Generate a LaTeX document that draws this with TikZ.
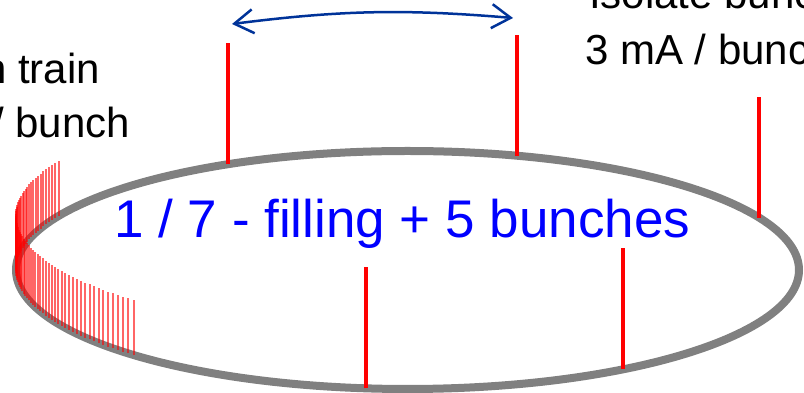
\documentclass[tikz,border=0pt]{standalone}
\usepackage{fontspec}
\setmainfont{Liberation Sans}
\usetikzlibrary{arrows.meta, calc}
\definecolor{ringgray}{RGB}{128,128,128}
\definecolor{bunchred}{RGB}{255,0,0}
\definecolor{fillblue}{RGB}{0,0,255}
\definecolor{arrowblue}{RGB}{0,51,153}
\tikzset{
  ring/.style={draw=ringgray, line width=8pt},
  bunch/.style={draw=bunchred, line width=4pt},
  trainline/.style={draw=bunchred, line width=2pt, opacity=0.6},
  blacktext/.style={inner sep=0pt, font=\fontsize{42}{50}\selectfont},
  filltext/.style={inner sep=0pt, text=fillblue, font=\fontsize{53}{64}\selectfont},
  gaparrow/.style={{Straight Barb[length=19pt,width=24pt]}-{Straight Barb[length=19pt,width=24pt]},
    line width=2.5pt, color=arrowblue},
}
\begin{document}
\begin{tikzpicture}[x=1pt, y=1pt]
  \useasboundingbox (0,0) rectangle (804,393);
  \clip (0,0) rectangle (804,393);
  \coordinate (c) at (407.5,123);
  \draw[ring] (c) ellipse [x radius=391.5, y radius=119];
  \foreach \a in {153,154.1,...,226.5}
    \draw[trainline] ($(c)+(\a:391.5 and 119)$) -- ++(0,55);
  \coordinate (p1) at ($(c)+(117.3:391.5 and 119)$);
  \coordinate (p2) at ($(c)+(73.8:391.5 and 119)$);
  \coordinate (p3) at ($(c)+(26.1:391.5 and 119)$);
  \coordinate (p4) at ($(c)+(263.9:391.5 and 119)$);
  \coordinate (p5) at ($(c)+(303.4:391.5 and 119)$);
  \foreach \i in {1,...,5}
    \draw[bunch] (p\i) -- ++(0,121);
  \coordinate (al) at (232,369);
  \coordinate (ar) at (513,375);
  \draw[gaparrow] (al) to[bend left=6] (ar);
  \node[filltext, anchor=base west] (fill) at (114,155) {1 / 7 - filling + 5 bunches};
  \node[blacktext, anchor=base east] (train) at (100,309) {n train};
  \node[blacktext, anchor=base east] (perbunch) at (130,255) {/ bunch};
  \node[blacktext, anchor=base west] (isolate) at (589,384) {Isolate bunch};
  \node[blacktext, anchor=base west] (current) at (585,328) {3 mA / bunch};
\end{tikzpicture}
\end{document}
